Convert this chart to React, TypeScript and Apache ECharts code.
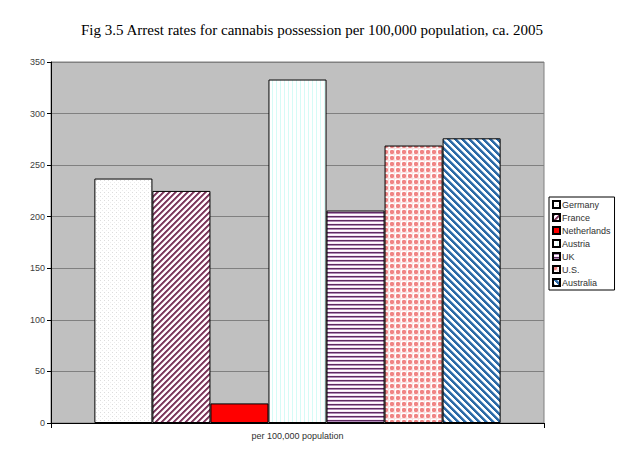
import React, { useEffect, useRef } from "react";
import * as echarts from "echarts";

const categories = ["per 100,000 population"];
const countries = ["Germany", "France", "Netherlands", "Austria", "UK", "U.S.", "Australia"];
const rates = [237, 225, 19, 333, 206, 269, 276];
const yTicks = { min: 0, max: 350, interval: 50 };

function makePattern(size: number, draw: (ctx: CanvasRenderingContext2D, s: number) => void): any {
  const c = document.createElement("canvas");
  c.width = size;
  c.height = size;
  const ctx = c.getContext("2d")!;
  ctx.fillStyle = "#ffffff";
  ctx.fillRect(0, 0, size, size);
  draw(ctx, size);
  return { image: c.toDataURL(), repeat: "repeat" };
}

function buildFills(): any[] {
  const germany = makePattern(4, (ctx) => {
    ctx.fillStyle = "#dcdcdc";
    ctx.fillRect(0, 0, 1, 1);
    ctx.fillStyle = "#ececec";
    ctx.fillRect(2, 2, 1, 1);
  });
  const france = makePattern(6, (ctx, s) => {
    for (let y = 0; y < s; y++) {
      for (let x = 0; x < s; x++) {
        const d = (x + y) % s;
        if (d < 2) {
          ctx.fillStyle = "#7a3a5e";
          ctx.fillRect(x, y, 1, 1);
        } else if (d === 2) {
          ctx.fillStyle = "#b07890";
          ctx.fillRect(x, y, 1, 1);
        } else if (d === 5) {
          ctx.fillStyle = "#f4dcef";
          ctx.fillRect(x, y, 1, 1);
        }
      }
    }
  });
  const netherlands = "#ff0000";
  const austria = makePattern(4, (ctx) => {
    ctx.fillStyle = "#d6fbf6";
    ctx.fillRect(0, 0, 1, 4);
  });
  const uk = makePattern(4, (ctx) => {
    ctx.fillStyle = "#5e2a62";
    ctx.fillRect(0, 0, 4, 1);
    ctx.fillStyle = "#b08ab8";
    ctx.fillRect(0, 1, 4, 1);
    ctx.fillStyle = "#f6e6f8";
    ctx.fillRect(0, 3, 4, 1);
  });
  const us = makePattern(6, (ctx) => {
    ctx.fillStyle = "#f08585";
    ctx.fillRect(1, 0, 2, 4);
    ctx.fillRect(0, 1, 4, 2);
    ctx.fillStyle = "#f6b4b4";
    ctx.fillRect(0, 0, 1, 1);
    ctx.fillRect(3, 0, 1, 1);
    ctx.fillRect(0, 3, 1, 1);
    ctx.fillRect(3, 3, 1, 1);
    ctx.fillStyle = "#fbe2e2";
    ctx.fillRect(4, 0, 1, 6);
    ctx.fillRect(0, 4, 6, 1);
  });
  const australia = makePattern(7, (ctx, s) => {
    for (let y = 0; y < s; y++) {
      for (let x = 0; x < s; x++) {
        const d = (x - y + s * 2) % s;
        if (d < 3) {
          ctx.fillStyle = "#2d6aa6";
          ctx.fillRect(x, y, 1, 1);
        } else if (d === 3) {
          ctx.fillStyle = "#8fb6dc";
          ctx.fillRect(x, y, 1, 1);
        }
      }
    }
  });
  return [germany, france, netherlands, austria, uk, us, australia];
}

export default function App() {
  const ref = useRef<HTMLDivElement>(null);
  useEffect(() => {
    if (!ref.current) return;
    const chart = echarts.init(ref.current, undefined, { renderer: "svg" });
    const fills = buildFills();
    chart.setOption({
      animation: false,
      backgroundColor: "#ffffff",
      title: {
        text: "Fig 3.5 Arrest rates for cannabis possession per 100,000 population, ca. 2005",
        left: 76,
        top: 17,
        textStyle: {
          fontFamily: "Liberation Serif",
          fontWeight: "normal",
          fontSize: 15,
          color: "#000000",
        },
      },
      legend: {
        orient: "vertical",
        left: 549,
        top: 197,
        data: countries,
        icon: "rect",
        itemWidth: 7,
        itemHeight: 7,
        itemGap: 4,
        padding: [3, 4, 3, 3],
        borderColor: "#000000",
        borderWidth: 1,
        backgroundColor: "#ffffff",
        textStyle: { fontFamily: "Liberation Sans", fontSize: 9, color: "#303030", padding: [0, 0, 0, -3] },
      },
      grid: { left: 51, right: 94, top: 62, bottom: 42, show: true, backgroundColor: "#c0c0c0", borderColor: "#808080", borderWidth: 1 },
      xAxis: {
        type: "category",
        data: categories,
        axisLine: { lineStyle: { color: "#000000" } },
        axisTick: { show: true, alignWithLabel: false, lineStyle: { color: "#000000" } },
        axisLabel: { fontFamily: "Liberation Sans", fontSize: 9, color: "#303030", margin: 8 },
      },
      yAxis: {
        type: "value",
        min: yTicks.min,
        max: yTicks.max,
        interval: yTicks.interval,
        axisLine: { show: true, lineStyle: { color: "#000000" } },
        axisTick: { show: true, length: 4, lineStyle: { color: "#000000" } },
        axisLabel: { fontFamily: "Liberation Sans", fontSize: 9, color: "#404040", margin: 6 },
        splitLine: { show: true, lineStyle: { color: "#808080", width: 1 } },
      },
      series: countries.map((name, i) => ({
        name,
        type: "bar",
        data: [rates[i]],
        barGap: "0%",
        barCategoryGap: "17.6%",
        itemStyle: { color: fills[i], borderColor: "#000000", borderWidth: 1 },
      })),
    });
    return () => chart.dispose();
  }, []);
  return <div ref={ref} style={{ position: "fixed", left: 0, top: 0, width: 638, height: 465 }} />;
}
